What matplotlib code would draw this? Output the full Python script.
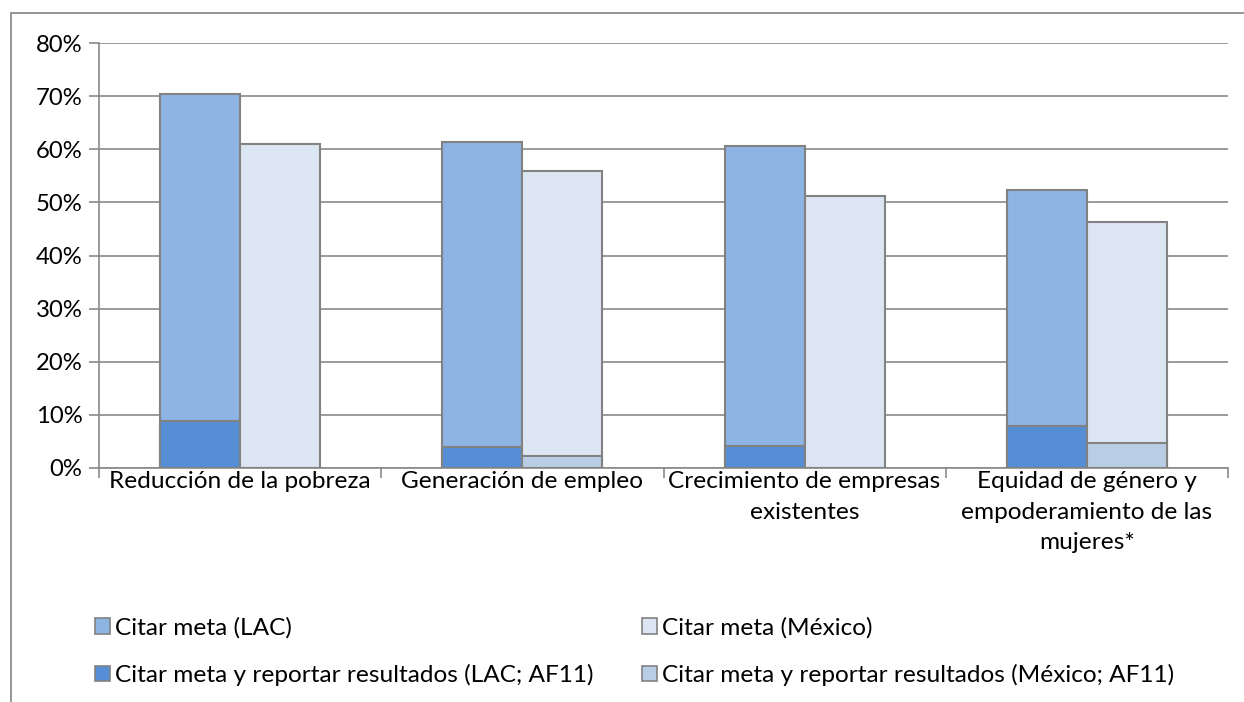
import matplotlib
matplotlib.use("Agg")
import matplotlib.pyplot as plt
from matplotlib.patches import Patch, Rectangle
from matplotlib.ticker import FixedLocator, PercentFormatter
import numpy as np

categories = [
    "Reducción de la pobreza",
    "Generación de empleo",
    "Crecimiento de empresas\nexistentes",
    "Equidad de género y\nempoderamiento de las\nmujeres*",
]
lac_meta = [70.4, 61.3, 60.6, 52.3]
lac_reporta = [8.9, 3.9, 4.2, 7.9]
mex_meta = [61.0, 56.0, 51.2, 46.4]
mex_reporta = [0.0, 2.3, 0.0, 4.8]

labels_lac = ["Citar meta (LAC)",
              "Citar meta y reportar resultados (LAC; AF11)"]
labels_mex = ["Citar meta (México)",
              "Citar meta y reportar resultados (México; AF11)"]
c_lac, c_lac_rep = "#8EB4E3", "#558ED5"
c_mex, c_mex_rep = "#DCE6F2", "#B9CDE5"
edge = "#828282"
grid = "#898989"
fs = 17.6

plt.rcParams["font.family"] = ["Lato", "DejaVu Sans"]

W, H = 1244, 702
fig = plt.figure(figsize=(W / 100, H / 100), dpi=100)
ax = fig.add_axes([99 / W, 1 - 468 / H, (1228 - 99) / W, (468 - 43) / H])

x = np.arange(len(categories))
bw = 0.283
kw = dict(width=bw, edgecolor=edge, linewidth=1.5, zorder=3)
ax.bar(x - bw / 2, lac_meta, color=c_lac, **kw)
ax.bar(x - bw / 2, lac_reporta, color=c_lac_rep, **kw)
ax.bar(x + bw / 2, mex_meta, color=c_mex, **kw)
ax.bar(x + bw / 2, mex_reporta, color=c_mex_rep, **kw)

ax.set_xlim(-0.5, len(categories) - 0.5)
ax.set_ylim(0, 80)
ax.yaxis.set_major_locator(FixedLocator(np.arange(0, 81, 10)))
ax.yaxis.set_major_formatter(PercentFormatter(decimals=0))
ax.grid(axis="y", color=grid, linewidth=1.2, zorder=0)
ax.set_axisbelow(True)

ax.set_xticks(x)
ax.set_xticklabels(categories, fontsize=fs, linespacing=1.58, color="#000000")
ax.xaxis.set_minor_locator(FixedLocator(np.arange(-0.5, len(categories), 1)))
ax.tick_params(axis="x", which="major", length=0, pad=2)
ax.tick_params(axis="x", which="minor", length=7, width=1.2, color=grid)
ax.tick_params(axis="y", length=7, width=1.2, color=grid, labelsize=17.2, pad=5)

for s in ("top", "right"):
    ax.spines[s].set_visible(False)
for s in ("left", "bottom"):
    ax.spines[s].set_color(grid)
    ax.spines[s].set_linewidth(1.2)

# chart area frame (open to the right and bottom)
fig.add_artist(Rectangle((11 / W, -0.1), 1.2, 1 - 13 / H + 0.1,
                         transform=fig.transFigure, fill=False,
                         edgecolor="#8c8c8c", linewidth=1.3))


def swatch(color):
    return Patch(facecolor=color, edgecolor=edge, linewidth=1.2)


legend_kw = dict(loc="upper left", frameon=False, fontsize=fs,
                 handlelength=0.6, handleheight=0.6, handletextpad=0.2,
                 labelspacing=1.05, borderpad=0, borderaxespad=0)
leg1 = fig.legend([swatch(c_lac), swatch(c_lac_rep)], labels_lac,
                  bbox_to_anchor=(95 / W, 1 - 617 / H), **legend_kw)
leg2 = fig.legend([swatch(c_mex), swatch(c_mex_rep)], labels_mex,
                  bbox_to_anchor=(642 / W, 1 - 617 / H), **legend_kw)

fig.savefig("out.png", dpi=100)
